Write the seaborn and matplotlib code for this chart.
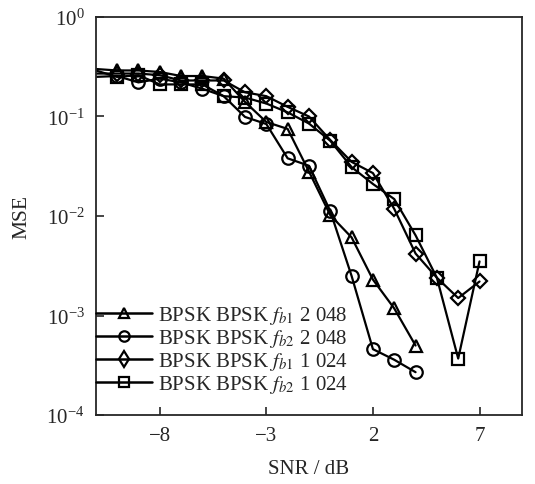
import numpy as np
import pandas as pd
import matplotlib
matplotlib.use("Agg")
import matplotlib.pyplot as plt
import seaborn as sns

# data (SNR in dB, MSE)
snr_2048 = [-11, -10, -9, -8, -7, -6, -5, -4, -3, -2, -1, 0, 1, 2, 3, 4]
snr_1024 = [-11, -10, -9, -8, -7, -6, -5, -4, -3, -2, -1, 0, 1, 2, 3, 4, 5, 6, 7]

mse_fb1_2048 = [0.30, 0.29, 0.29, 0.28, 0.255, 0.255, 0.24, 0.14, 0.088, 0.075,
                0.028, 0.0102, 0.0061, 0.0023, 0.00118, 0.0005]
mse_fb2_2048 = [0.25, 0.255, 0.22, 0.24, 0.22, 0.19, 0.16, 0.099, 0.084, 0.038,
                0.032, 0.0112, 0.0025, 0.00046, 0.00036, 0.00027]
mse_fb1_1024 = [0.27, 0.27, 0.27, 0.26, 0.23, 0.23, 0.23, 0.175, 0.16, 0.125,
                0.10, 0.058, 0.035, 0.027, 0.0118, 0.0042, 0.0024, 0.0015, 0.0022]
mse_fb2_1024 = [0.29, 0.25, 0.26, 0.21, 0.21, 0.21, 0.16, 0.155, 0.135, 0.11,
                0.085, 0.057, 0.031, 0.021, 0.0148, 0.0064, 0.0024, 0.00037, 0.0035]

labels = [r"BPSK BPSK $f_{b1}$ 2 048",
          r"BPSK BPSK $f_{b2}$ 2 048",
          r"BPSK BPSK $f_{b1}$ 1 024",
          r"BPSK BPSK $f_{b2}$ 1 024"]
markers = ["^", "o", "D", "s"]

frames = []
for lab, x, y in zip(labels,
                     [snr_2048, snr_2048, snr_1024, snr_1024],
                     [mse_fb1_2048, mse_fb2_2048, mse_fb1_1024, mse_fb2_1024]):
    frames.append(pd.DataFrame({"SNR": x, "MSE": y, "series": lab}))
df = pd.concat(frames, ignore_index=True)

sns.set_style("ticks")
plt.rcParams["font.family"] = ["Liberation Serif", "DejaVu Serif"]
plt.rcParams["mathtext.fontset"] = "stix"

fig = plt.figure(figsize=(5.35, 4.85), dpi=100)
ax = fig.add_axes([0.179, 0.142, 0.797, 0.821])

sns.lineplot(data=df, x="SNR", y="MSE", hue="series", style="series",
             hue_order=labels, style_order=labels,
             palette=["black"] * 4, markers=markers, dashes=False,
             legend=False, ax=ax, sort=False)

for line, m in zip(ax.lines, markers):
    line.set_linewidth(1.6)
    line.set_markerfacecolor("none")
    line.set_markeredgecolor("black")
    line.set_markeredgewidth(1.6)
    line.set_markersize(9 if m != "D" else 7)
    line.set_markevery(slice(1, None))

ax.set_yscale("log")
ax.set_xlim(-11, 9)
ax.set_ylim(1e-4, 1)
ax.set_xticks([-8, -3, 2, 7])
ax.set_xticklabels(["\u22128", "\u22123", "2", "7"])
ax.set_yticks([1e-4, 1e-3, 1e-2, 1e-1, 1])
ax.minorticks_off()
ax.tick_params(direction="in", length=6, width=1.2, labelsize=15, pad=8)
for s in ax.spines.values():
    s.set_linewidth(1.3)
    s.set_visible(True)

ax.set_xlabel("SNR / dB", fontsize=15, labelpad=10)
ax.set_ylabel("MSE", fontsize=15.5, labelpad=11)

leg = ax.legend(ax.lines, labels, loc="lower left", bbox_to_anchor=(-0.005, 0.045),
                frameon=False, fontsize=15, handlelength=2.7, handletextpad=0.3,
                labelspacing=0.05, borderaxespad=0, borderpad=0.1)
for h, m in zip(leg.legend_handles, markers):
    h.set_linewidth(1.8)
    if m == "D":
        h.set_marker("d")
        h.set_markersize(8)
    else:
        h.set_markersize(7.5)

fig.savefig("out.png", dpi=100)
